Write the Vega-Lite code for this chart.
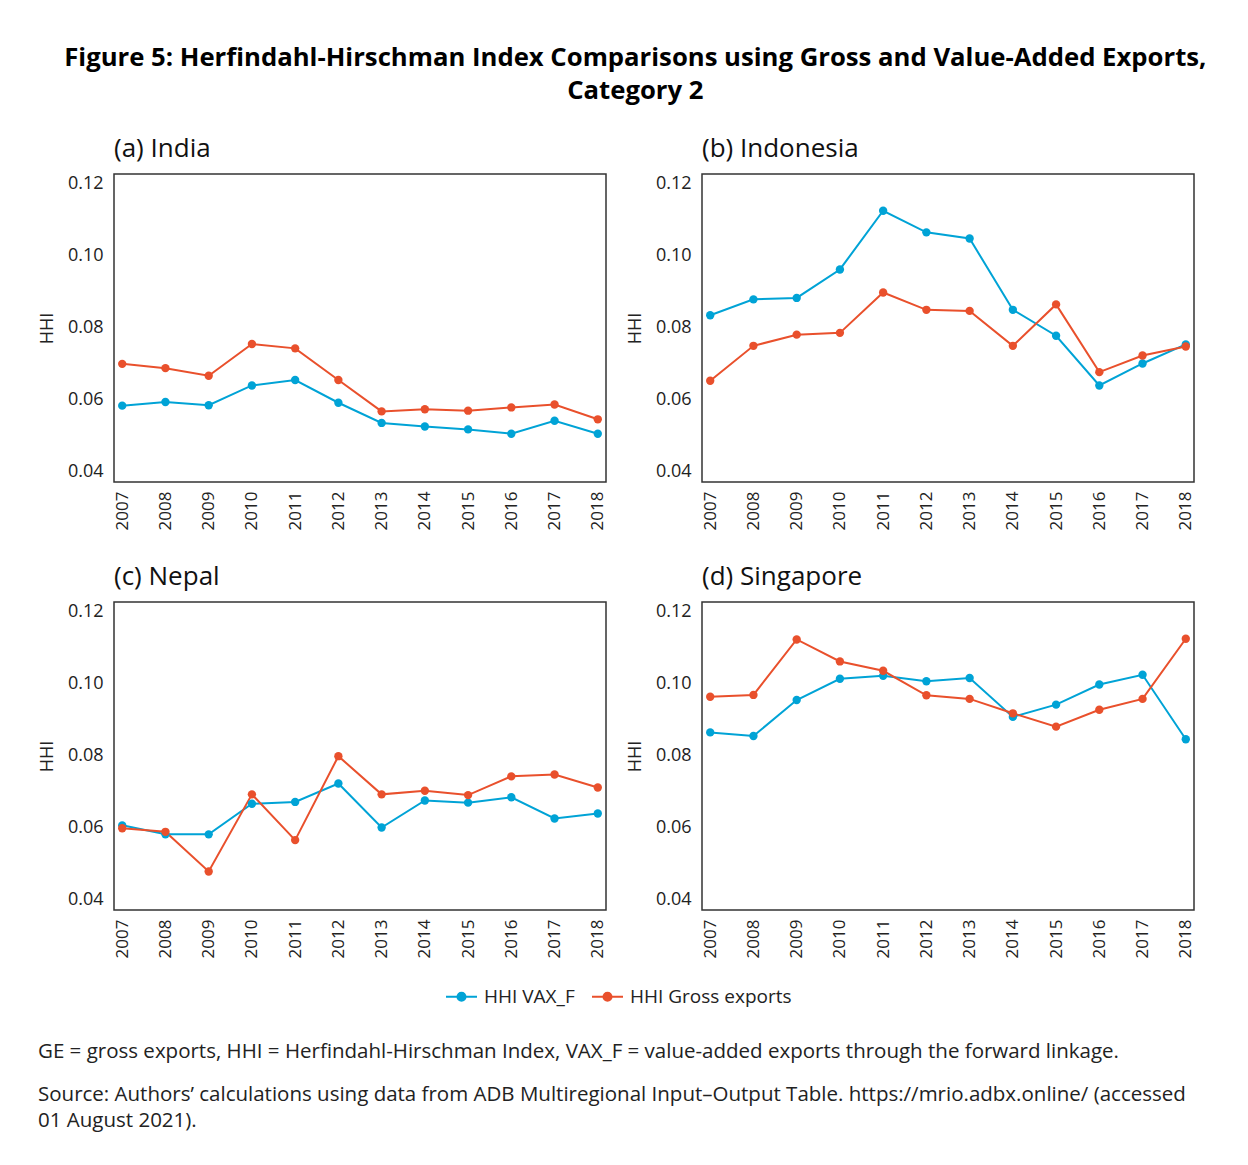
{
  "$schema": "https://vega.github.io/schema/vega-lite/v6.json",
  "padding": {"left": 37, "top": 44, "right": 0, "bottom": 0},
  "background": "white",
  "title": {
    "text": ["Figure 5: Herfindahl-Hirschman Index Comparisons using Gross and Value-Added Exports,", "Category 2"],
    "fontSize": 25.7,
    "fontWeight": "bold",
    "font": "Open Sans",
    "color": "#000000",
    "anchor": "middle",
    "lineHeight": 33,
    "offset": 31
  },
  "config": {
    "font": "Open Sans",
    "view": {"stroke": "#333333", "strokeWidth": 1.5},
    "axis": {"grid": false, "ticks": false, "domain": false, "labelColor": "#222222", "titleColor": "#222222", "labelFont": "Open Sans", "titleFont": "Open Sans"},
    "legend": {"labelFont": "Open Sans"},
    "title": {"font": "Open Sans", "subtitleFont": "Open Sans"}
  },
  "datasets": {
    "hhi": [
      {"country": "India", "year": "2007", "series": "HHI VAX_F", "value": 0.0584},
      {"country": "India", "year": "2008", "series": "HHI VAX_F", "value": 0.0594},
      {"country": "India", "year": "2009", "series": "HHI VAX_F", "value": 0.0585},
      {"country": "India", "year": "2010", "series": "HHI VAX_F", "value": 0.0640},
      {"country": "India", "year": "2011", "series": "HHI VAX_F", "value": 0.0655},
      {"country": "India", "year": "2012", "series": "HHI VAX_F", "value": 0.0592},
      {"country": "India", "year": "2013", "series": "HHI VAX_F", "value": 0.0536},
      {"country": "India", "year": "2014", "series": "HHI VAX_F", "value": 0.0526},
      {"country": "India", "year": "2015", "series": "HHI VAX_F", "value": 0.0518},
      {"country": "India", "year": "2016", "series": "HHI VAX_F", "value": 0.0506},
      {"country": "India", "year": "2017", "series": "HHI VAX_F", "value": 0.0542},
      {"country": "India", "year": "2018", "series": "HHI VAX_F", "value": 0.0506},
      {"country": "India", "year": "2007", "series": "HHI Gross exports", "value": 0.0700},
      {"country": "India", "year": "2008", "series": "HHI Gross exports", "value": 0.0688},
      {"country": "India", "year": "2009", "series": "HHI Gross exports", "value": 0.0667},
      {"country": "India", "year": "2010", "series": "HHI Gross exports", "value": 0.0755},
      {"country": "India", "year": "2011", "series": "HHI Gross exports", "value": 0.0743},
      {"country": "India", "year": "2012", "series": "HHI Gross exports", "value": 0.0655},
      {"country": "India", "year": "2013", "series": "HHI Gross exports", "value": 0.0568},
      {"country": "India", "year": "2014", "series": "HHI Gross exports", "value": 0.0574},
      {"country": "India", "year": "2015", "series": "HHI Gross exports", "value": 0.0570},
      {"country": "India", "year": "2016", "series": "HHI Gross exports", "value": 0.0579},
      {"country": "India", "year": "2017", "series": "HHI Gross exports", "value": 0.0587},
      {"country": "India", "year": "2018", "series": "HHI Gross exports", "value": 0.0546},
      {"country": "Indonesia", "year": "2007", "series": "HHI VAX_F", "value": 0.0835},
      {"country": "Indonesia", "year": "2008", "series": "HHI VAX_F", "value": 0.0879},
      {"country": "Indonesia", "year": "2009", "series": "HHI VAX_F", "value": 0.0883},
      {"country": "Indonesia", "year": "2010", "series": "HHI VAX_F", "value": 0.0962},
      {"country": "Indonesia", "year": "2011", "series": "HHI VAX_F", "value": 0.1125},
      {"country": "Indonesia", "year": "2012", "series": "HHI VAX_F", "value": 0.1065},
      {"country": "Indonesia", "year": "2013", "series": "HHI VAX_F", "value": 0.1048},
      {"country": "Indonesia", "year": "2014", "series": "HHI VAX_F", "value": 0.0850},
      {"country": "Indonesia", "year": "2015", "series": "HHI VAX_F", "value": 0.0778},
      {"country": "Indonesia", "year": "2016", "series": "HHI VAX_F", "value": 0.0640},
      {"country": "Indonesia", "year": "2017", "series": "HHI VAX_F", "value": 0.0701},
      {"country": "Indonesia", "year": "2018", "series": "HHI VAX_F", "value": 0.0754},
      {"country": "Indonesia", "year": "2007", "series": "HHI Gross exports", "value": 0.0653},
      {"country": "Indonesia", "year": "2008", "series": "HHI Gross exports", "value": 0.0750},
      {"country": "Indonesia", "year": "2009", "series": "HHI Gross exports", "value": 0.0781},
      {"country": "Indonesia", "year": "2010", "series": "HHI Gross exports", "value": 0.0786},
      {"country": "Indonesia", "year": "2011", "series": "HHI Gross exports", "value": 0.0898},
      {"country": "Indonesia", "year": "2012", "series": "HHI Gross exports", "value": 0.0850},
      {"country": "Indonesia", "year": "2013", "series": "HHI Gross exports", "value": 0.0847},
      {"country": "Indonesia", "year": "2014", "series": "HHI Gross exports", "value": 0.0750},
      {"country": "Indonesia", "year": "2015", "series": "HHI Gross exports", "value": 0.0865},
      {"country": "Indonesia", "year": "2016", "series": "HHI Gross exports", "value": 0.0677},
      {"country": "Indonesia", "year": "2017", "series": "HHI Gross exports", "value": 0.0723},
      {"country": "Indonesia", "year": "2018", "series": "HHI Gross exports", "value": 0.0748},
      {"country": "Nepal", "year": "2007", "series": "HHI VAX_F", "value": 0.0607},
      {"country": "Nepal", "year": "2008", "series": "HHI VAX_F", "value": 0.0582},
      {"country": "Nepal", "year": "2009", "series": "HHI VAX_F", "value": 0.0582},
      {"country": "Nepal", "year": "2010", "series": "HHI VAX_F", "value": 0.0667},
      {"country": "Nepal", "year": "2011", "series": "HHI VAX_F", "value": 0.0672},
      {"country": "Nepal", "year": "2012", "series": "HHI VAX_F", "value": 0.0723},
      {"country": "Nepal", "year": "2013", "series": "HHI VAX_F", "value": 0.0601},
      {"country": "Nepal", "year": "2014", "series": "HHI VAX_F", "value": 0.0676},
      {"country": "Nepal", "year": "2015", "series": "HHI VAX_F", "value": 0.0670},
      {"country": "Nepal", "year": "2016", "series": "HHI VAX_F", "value": 0.0685},
      {"country": "Nepal", "year": "2017", "series": "HHI VAX_F", "value": 0.0626},
      {"country": "Nepal", "year": "2018", "series": "HHI VAX_F", "value": 0.0640},
      {"country": "Nepal", "year": "2007", "series": "HHI Gross exports", "value": 0.0599},
      {"country": "Nepal", "year": "2008", "series": "HHI Gross exports", "value": 0.0589},
      {"country": "Nepal", "year": "2009", "series": "HHI Gross exports", "value": 0.0479},
      {"country": "Nepal", "year": "2010", "series": "HHI Gross exports", "value": 0.0693},
      {"country": "Nepal", "year": "2011", "series": "HHI Gross exports", "value": 0.0566},
      {"country": "Nepal", "year": "2012", "series": "HHI Gross exports", "value": 0.0799},
      {"country": "Nepal", "year": "2013", "series": "HHI Gross exports", "value": 0.0693},
      {"country": "Nepal", "year": "2014", "series": "HHI Gross exports", "value": 0.0703},
      {"country": "Nepal", "year": "2015", "series": "HHI Gross exports", "value": 0.0691},
      {"country": "Nepal", "year": "2016", "series": "HHI Gross exports", "value": 0.0743},
      {"country": "Nepal", "year": "2017", "series": "HHI Gross exports", "value": 0.0748},
      {"country": "Nepal", "year": "2018", "series": "HHI Gross exports", "value": 0.0712},
      {"country": "Singapore", "year": "2007", "series": "HHI VAX_F", "value": 0.0865},
      {"country": "Singapore", "year": "2008", "series": "HHI VAX_F", "value": 0.0855},
      {"country": "Singapore", "year": "2009", "series": "HHI VAX_F", "value": 0.0955},
      {"country": "Singapore", "year": "2010", "series": "HHI VAX_F", "value": 0.1014},
      {"country": "Singapore", "year": "2011", "series": "HHI VAX_F", "value": 0.1022},
      {"country": "Singapore", "year": "2012", "series": "HHI VAX_F", "value": 0.1007},
      {"country": "Singapore", "year": "2013", "series": "HHI VAX_F", "value": 0.1016},
      {"country": "Singapore", "year": "2014", "series": "HHI VAX_F", "value": 0.0908},
      {"country": "Singapore", "year": "2015", "series": "HHI VAX_F", "value": 0.0942},
      {"country": "Singapore", "year": "2016", "series": "HHI VAX_F", "value": 0.0998},
      {"country": "Singapore", "year": "2017", "series": "HHI VAX_F", "value": 0.1025},
      {"country": "Singapore", "year": "2018", "series": "HHI VAX_F", "value": 0.0846},
      {"country": "Singapore", "year": "2007", "series": "HHI Gross exports", "value": 0.0964},
      {"country": "Singapore", "year": "2008", "series": "HHI Gross exports", "value": 0.0969},
      {"country": "Singapore", "year": "2009", "series": "HHI Gross exports", "value": 0.1123},
      {"country": "Singapore", "year": "2010", "series": "HHI Gross exports", "value": 0.1062},
      {"country": "Singapore", "year": "2011", "series": "HHI Gross exports", "value": 0.1036},
      {"country": "Singapore", "year": "2012", "series": "HHI Gross exports", "value": 0.0968},
      {"country": "Singapore", "year": "2013", "series": "HHI Gross exports", "value": 0.0958},
      {"country": "Singapore", "year": "2014", "series": "HHI Gross exports", "value": 0.0918},
      {"country": "Singapore", "year": "2015", "series": "HHI Gross exports", "value": 0.0881},
      {"country": "Singapore", "year": "2016", "series": "HHI Gross exports", "value": 0.0928},
      {"country": "Singapore", "year": "2017", "series": "HHI Gross exports", "value": 0.0958},
      {"country": "Singapore", "year": "2018", "series": "HHI Gross exports", "value": 0.1125}
    ]
  },
  "spacing": 82,
  "vconcat": [
    {
      "spacing": 32,
      "vconcat": [
        {
          "spacing": 18,
          "hconcat": [
            {
              "title": {"text": "(a) India", "anchor": "start", "frame": "group", "fontSize": 26, "fontWeight": "normal", "color": "#111111", "offset": 12},
              "width": 492, "height": 308,
              "data": {"name": "hhi"},
              "transform": [{"filter": "datum.country === 'India'"}],
              "mark": {"type": "line", "strokeWidth": 2, "point": {"filled": true, "size": 70, "opacity": 1}},
              "encoding": {
                "x": {"field": "year", "type": "ordinal", "scale": {"type": "point", "padding": 0.19}, "axis": {"title": null, "labelAngle": 270, "labelFontSize": 17, "labelPadding": 9}},
                "y": {"field": "value", "type": "quantitative", "scale": {"domain": [0.0372, 0.1227], "nice": false, "zero": false}, "axis": {"title": "HHI", "values": [0.04, 0.06, 0.08, 0.1, 0.12], "format": ".2f", "labelFontSize": 18, "labelPadding": 11, "titleFontSize": 18, "titleFontWeight": "normal", "titlePadding": 11}},
                "color": {"field": "series", "type": "nominal", "sort": ["HHI VAX_F", "HHI Gross exports"], "scale": {"domain": ["HHI VAX_F", "HHI Gross exports"], "range": ["#00a3d6", "#e9502c"]},
                  "legend": {"title": null, "orient": "none", "legendX": 331, "legendY": 806, "padding": 0, "direction": "horizontal", "labelFontSize": 19, "labelLimit": 400, "labelColor": "#222222", "symbolType": "M-1,0H1M0.26,0A0.26,0.26,0,1,1,-0.26,0A0.26,0.26,0,1,1,0.26,0Z", "symbolSize": 961, "symbolStrokeWidth": 2, "labelOffset": 6, "columnPadding": 13,
                    "encode": {"symbols": {"update": {"fill": {"scale": "color", "field": "value"}, "stroke": {"scale": "color", "field": "value"}, "opacity": {"value": 1}}}}}}
              }
            },
            {
              "title": {"text": "(b) Indonesia", "anchor": "start", "frame": "group", "fontSize": 26, "fontWeight": "normal", "color": "#111111", "offset": 12},
              "width": 492, "height": 308,
              "data": {"name": "hhi"},
              "transform": [{"filter": "datum.country === 'Indonesia'"}],
              "mark": {"type": "line", "strokeWidth": 2, "point": {"filled": true, "size": 70, "opacity": 1}},
              "encoding": {
                "x": {"field": "year", "type": "ordinal", "scale": {"type": "point", "padding": 0.19}, "axis": {"title": null, "labelAngle": 270, "labelFontSize": 17, "labelPadding": 9}},
                "y": {"field": "value", "type": "quantitative", "scale": {"domain": [0.0372, 0.1227], "nice": false, "zero": false}, "axis": {"title": "HHI", "values": [0.04, 0.06, 0.08, 0.1, 0.12], "format": ".2f", "labelFontSize": 18, "labelPadding": 11, "titleFontSize": 18, "titleFontWeight": "normal", "titlePadding": 11}},
                "color": {"field": "series", "type": "nominal", "sort": ["HHI VAX_F", "HHI Gross exports"], "scale": {"domain": ["HHI VAX_F", "HHI Gross exports"], "range": ["#00a3d6", "#e9502c"]}}
              }
            }
          ]
        },
        {
          "spacing": 18,
          "hconcat": [
            {
              "title": {"text": "(c) Nepal", "anchor": "start", "frame": "group", "fontSize": 26, "fontWeight": "normal", "color": "#111111", "offset": 12},
              "width": 492, "height": 308,
              "data": {"name": "hhi"},
              "transform": [{"filter": "datum.country === 'Nepal'"}],
              "mark": {"type": "line", "strokeWidth": 2, "point": {"filled": true, "size": 70, "opacity": 1}},
              "encoding": {
                "x": {"field": "year", "type": "ordinal", "scale": {"type": "point", "padding": 0.19}, "axis": {"title": null, "labelAngle": 270, "labelFontSize": 17, "labelPadding": 9}},
                "y": {"field": "value", "type": "quantitative", "scale": {"domain": [0.0372, 0.1227], "nice": false, "zero": false}, "axis": {"title": "HHI", "values": [0.04, 0.06, 0.08, 0.1, 0.12], "format": ".2f", "labelFontSize": 18, "labelPadding": 11, "titleFontSize": 18, "titleFontWeight": "normal", "titlePadding": 11}},
                "color": {"field": "series", "type": "nominal", "sort": ["HHI VAX_F", "HHI Gross exports"], "scale": {"domain": ["HHI VAX_F", "HHI Gross exports"], "range": ["#00a3d6", "#e9502c"]}}
              }
            },
            {
              "title": {"text": "(d) Singapore", "anchor": "start", "frame": "group", "fontSize": 26, "fontWeight": "normal", "color": "#111111", "offset": 12},
              "width": 492, "height": 308,
              "data": {"name": "hhi"},
              "transform": [{"filter": "datum.country === 'Singapore'"}],
              "mark": {"type": "line", "strokeWidth": 2, "point": {"filled": true, "size": 70, "opacity": 1}},
              "encoding": {
                "x": {"field": "year", "type": "ordinal", "scale": {"type": "point", "padding": 0.19}, "axis": {"title": null, "labelAngle": 270, "labelFontSize": 17, "labelPadding": 9}},
                "y": {"field": "value", "type": "quantitative", "scale": {"domain": [0.0372, 0.1227], "nice": false, "zero": false}, "axis": {"title": "HHI", "values": [0.04, 0.06, 0.08, 0.1, 0.12], "format": ".2f", "labelFontSize": 18, "labelPadding": 11, "titleFontSize": 18, "titleFontWeight": "normal", "titlePadding": 11}},
                "color": {"field": "series", "type": "nominal", "sort": ["HHI VAX_F", "HHI Gross exports"], "scale": {"domain": ["HHI VAX_F", "HHI Gross exports"], "range": ["#00a3d6", "#e9502c"]}}
              }
            }
          ]
        }
      ]
    },
    {
      "width": 1119, "height": 1,
      "view": {"stroke": null},
      "title": {
        "text": "GE = gross exports, HHI = Herfindahl-Hirschman Index, VAX_F = value-added exports through the forward linkage.",
        "subtitle": ["Source: Authors’ calculations using data from ADB Multiregional Input–Output Table. https://mrio.adbx.online/ (accessed", "01 August 2021)."],
        "anchor": "start", "frame": "group", "dx": -76, "fontSize": 20.5, "fontWeight": "normal", "color": "#222222",
        "subtitleFontSize": 20.5, "subtitleColor": "#222222", "subtitlePadding": 23, "subtitleLineHeight": 26, "offset": 0
      },
      "data": {"values": [{}]},
      "mark": {"type": "rule", "opacity": 0},
      "encoding": {}
    }
  ]
}
